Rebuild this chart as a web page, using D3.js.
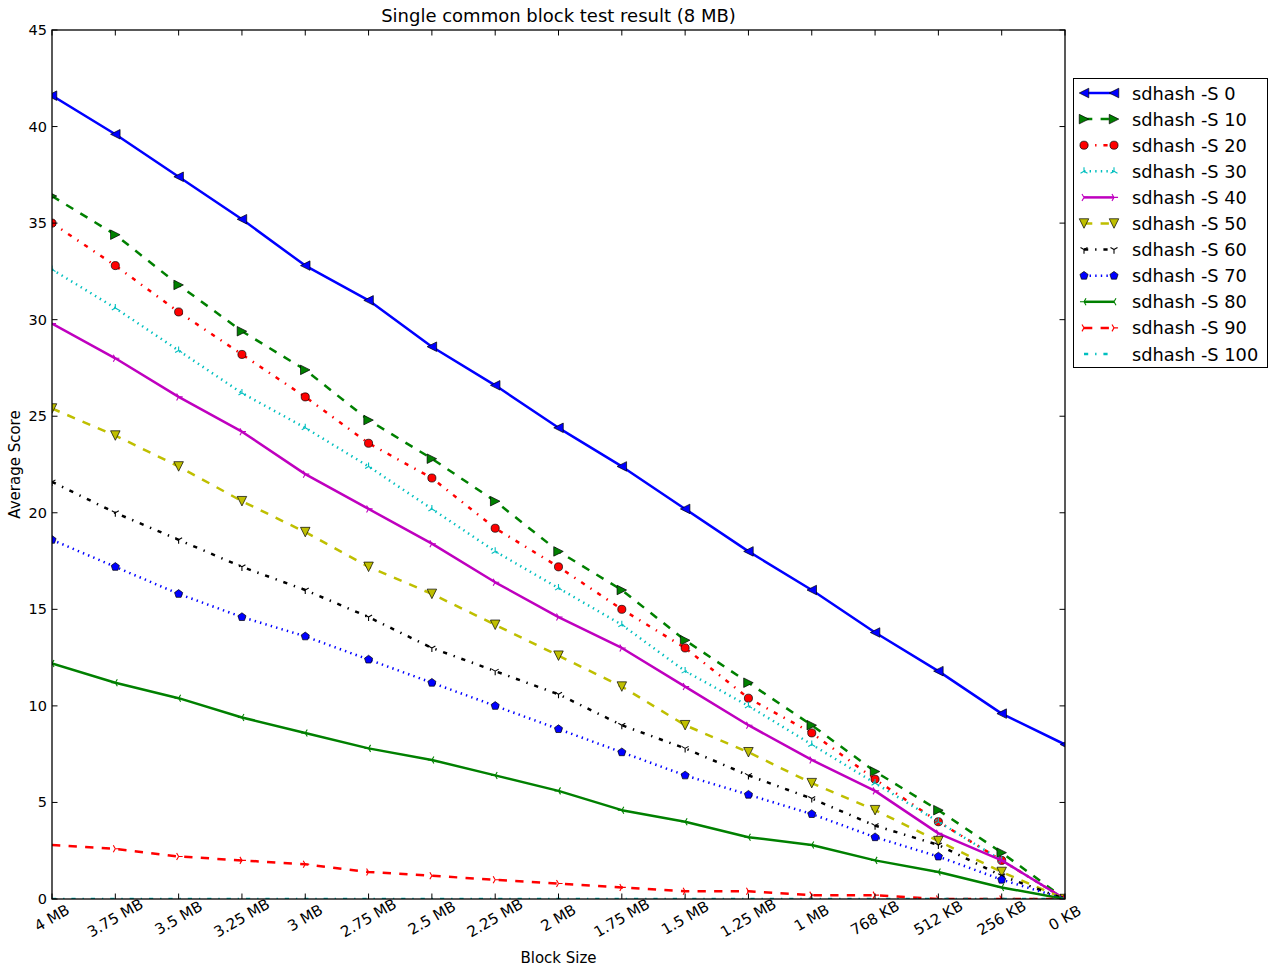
<!DOCTYPE html>
<html>
<head>
<meta charset="utf-8">
<script src="https://cdn.jsdelivr.net/npm/d3@7"></script>
<style>
  html, body { margin: 0; padding: 0; background: #ffffff; }
  svg { display: block; font-family: "DejaVu Sans", sans-serif; }
</style>
</head>
<body>
<svg id="chart" width="1272" height="969"></svg>
<script>
// Block sizes along the x axis
const categories = ["4 MB", "3.75 MB", "3.5 MB", "3.25 MB", "3 MB", "2.75 MB", "2.5 MB",
  "2.25 MB", "2 MB", "1.75 MB", "1.5 MB", "1.25 MB", "1 MB", "768 KB", "512 KB", "256 KB", "0 KB"];

// Average score per sdhash -S setting
const s0   = [41.6, 39.6, 37.4, 35.2, 32.8, 31.0, 28.6, 26.6, 24.4, 22.4, 20.2, 18.0, 16.0, 13.8, 11.8, 9.6, 8.0];
const s10  = [36.4, 34.4, 31.8, 29.4, 27.4, 24.8, 22.8, 20.6, 18.0, 16.0, 13.4, 11.2, 9.0, 6.6, 4.6, 2.4, 0];
const s20  = [35.0, 32.8, 30.4, 28.2, 26.0, 23.6, 21.8, 19.2, 17.2, 15.0, 13.0, 10.4, 8.6, 6.2, 4.0, 2.0, 0];
const s30  = [32.6, 30.6, 28.4, 26.2, 24.4, 22.4, 20.2, 18.0, 16.1, 14.2, 11.8, 10.0, 8.0, 6.0, 4.0, 2.0, 0];
const s40  = [29.8, 28.0, 26.0, 24.2, 22.0, 20.2, 18.4, 16.4, 14.6, 13.0, 11.0, 9.0, 7.2, 5.6, 3.4, 2.0, 0];
const s50  = [25.4, 24.0, 22.4, 20.6, 19.0, 17.2, 15.8, 14.2, 12.6, 11.0, 9.0, 7.6, 6.0, 4.6, 3.0, 1.4, 0];
const s60  = [21.6, 20.0, 18.6, 17.2, 16.0, 14.6, 13.0, 11.8, 10.6, 9.0, 7.8, 6.4, 5.2, 3.8, 2.8, 1.2, 0];
const s70  = [18.6, 17.2, 15.8, 14.6, 13.6, 12.4, 11.2, 10.0, 8.8, 7.6, 6.4, 5.4, 4.4, 3.2, 2.2, 1.0, 0];
const s80  = [12.2, 11.2, 10.4, 9.4, 8.6, 7.8, 7.2, 6.4, 5.6, 4.6, 4.0, 3.2, 2.8, 2.0, 1.4, 0.6, 0];
const s90  = [2.8, 2.6, 2.2, 2.0, 1.8, 1.4, 1.2, 1.0, 0.8, 0.6, 0.4, 0.4, 0.2, 0.2, 0, 0, 0];
const s100 = [0, 0, 0, 0, 0, 0, 0, 0, 0, 0, 0, 0, 0, 0, 0, 0, 0];

const seriesNames = ["sdhash -S 0", "sdhash -S 10", "sdhash -S 20", "sdhash -S 30", "sdhash -S 40",
  "sdhash -S 50", "sdhash -S 60", "sdhash -S 70", "sdhash -S 80", "sdhash -S 90", "sdhash -S 100"];
const seriesValues = [s0, s10, s20, s30, s40, s50, s60, s70, s80, s90, s100];

const yTicks = [0, 5, 10, 15, 20, 25, 30, 35, 40, 45];

// Line styling per series: colour, dash pattern, marker kind
const DASHED = "8.3,8.3", DASHDOT = "4.2,6.9,1.4,6.9", DOTTED = "1.4,4.2";
const styles = [
  { color: "#0000ff", dash: null,    marker: "tri-left" },
  { color: "#008000", dash: DASHED,  marker: "tri-right" },
  { color: "#ff0000", dash: DASHDOT, marker: "circle" },
  { color: "#00bfbf", dash: DOTTED,  marker: "y-up" },
  { color: "#bf00bf", dash: null,    marker: "y-right" },
  { color: "#bfbf00", dash: DASHED,  marker: "tri-down" },
  { color: "#000000", dash: DASHDOT, marker: "y-down" },
  { color: "#0000ff", dash: DOTTED,  marker: "pentagon" },
  { color: "#008000", dash: null,    marker: "y-left" },
  { color: "#ff0000", dash: DASHED,  marker: "y-right" },
  { color: "#00bfbf", dash: DASHDOT, marker: "none" }
];

const LINE_W = 2.5, MARK = 9.5;
const margin = { left: 52, right: 1065, top: 30, bottom: 899 };
const svg = d3.select("#chart");

const x = d3.scalePoint().domain(categories).range([margin.left, margin.right]).padding(0);
const y = d3.scaleLinear().domain([0, 45]).range([margin.bottom, margin.top]);

// Marker path generator (size is full width in px)
function markerPath(kind, size) {
  const r = size / 2;
  const p = d3.path();
  if (kind === "tri-left") {
    p.moveTo(-r, 0); p.lineTo(r, -r); p.lineTo(r, r); p.closePath();
  } else if (kind === "tri-right") {
    p.moveTo(r, 0); p.lineTo(-r, -r); p.lineTo(-r, r); p.closePath();
  } else if (kind === "tri-down") {
    p.moveTo(0, r); p.lineTo(-r, -r); p.lineTo(r, -r); p.closePath();
  } else if (kind === "circle") {
    p.arc(0, 0, r * 0.85, 0, 2 * Math.PI);
  } else if (kind === "pentagon") {
    for (let i = 0; i < 5; i++) {
      const a = -Math.PI / 2 + i * 2 * Math.PI / 5;
      const px = r * 0.9 * Math.cos(a), py = r * 0.9 * Math.sin(a);
      if (i === 0) p.moveTo(px, py); else p.lineTo(px, py);
    }
    p.closePath();
  } else if (kind.startsWith("y-")) {
    // three-armed "tri" markers
    const base = { "y-down": 90, "y-up": -90, "y-left": 180, "y-right": 0 }[kind];
    [0, 120, 240].forEach(off => {
      const a = (base + off) * Math.PI / 180;
      p.moveTo(0, 0); p.lineTo(r * 0.85 * Math.cos(a), r * 0.85 * Math.sin(a));
    });
  }
  return p.toString();
}
function isFilled(kind) { return !kind.startsWith("y-") && kind !== "none"; }

// Clip area for the plot
svg.append("defs").append("clipPath").attr("id", "plot-clip")
  .append("rect")
  .attr("x", margin.left).attr("y", margin.top)
  .attr("width", margin.right - margin.left).attr("height", margin.bottom - margin.top);

const plot = svg.append("g").attr("clip-path", "url(#plot-clip)");

const line = d3.line().x((d, i) => x(categories[i])).y(d => y(d));

seriesValues.forEach((vals, si) => {
  const st = styles[si];
  const g = plot.append("g");
  g.append("path")
    .datum(vals)
    .attr("d", line)
    .attr("fill", "none")
    .attr("stroke", st.color)
    .attr("stroke-width", LINE_W)
    .attr("stroke-dasharray", st.dash)
    .attr("stroke-linejoin", "round");
  if (st.marker !== "none") {
    g.selectAll("path.mk").data(vals).enter().append("path")
      .attr("class", "mk")
      .attr("transform", (d, i) => `translate(${x(categories[i])},${y(d)})`)
      .attr("d", markerPath(st.marker, MARK))
      .attr("fill", isFilled(st.marker) ? st.color : "none")
      .attr("stroke", isFilled(st.marker) ? "#000" : st.color)
      .attr("stroke-width", isFilled(st.marker) ? 0.7 : 1.1);
  }
});

// Frame
const axisG = svg.append("g");
axisG.append("rect")
  .attr("x", margin.left).attr("y", margin.top)
  .attr("width", margin.right - margin.left).attr("height", margin.bottom - margin.top)
  .attr("fill", "none").attr("stroke", "#000").attr("stroke-width", 1.3);

// Y axis: ticks inward on both sides
const TL = 5.5;
yTicks.forEach(t => {
  const yy = y(t);
  axisG.append("line").attr("x1", margin.left).attr("x2", margin.left + TL)
    .attr("y1", yy).attr("y2", yy).attr("stroke", "#000").attr("stroke-width", 1);
  axisG.append("line").attr("x1", margin.right).attr("x2", margin.right - TL)
    .attr("y1", yy).attr("y2", yy).attr("stroke", "#000").attr("stroke-width", 1);
  axisG.append("text").attr("x", margin.left - 5).attr("y", yy)
    .attr("text-anchor", "end").attr("dominant-baseline", "central")
    .attr("font-size", 14.5).attr("fill", "#000").text(t);
});

// X axis: ticks inward on top and bottom, rotated labels
categories.forEach(c => {
  const xx = x(c);
  axisG.append("line").attr("x1", xx).attr("x2", xx)
    .attr("y1", margin.bottom).attr("y2", margin.bottom - TL).attr("stroke", "#000").attr("stroke-width", 1);
  axisG.append("line").attr("x1", xx).attr("x2", xx)
    .attr("y1", margin.top).attr("y2", margin.top + TL).attr("stroke", "#000").attr("stroke-width", 1);
  axisG.append("text")
    .attr("transform", `translate(${xx},${918}) rotate(-30)`)
    .attr("text-anchor", "middle").attr("dominant-baseline", "central")
    .attr("font-size", 15).attr("fill", "#000").text(c);
});

// Titles
svg.append("text").attr("x", (margin.left + margin.right) / 2).attr("y", 22)
  .attr("text-anchor", "middle").attr("font-size", 18).attr("fill", "#000")
  .text("Single common block test result (8 MB)");
svg.append("text").attr("x", (margin.left + margin.right) / 2).attr("y", 963)
  .attr("text-anchor", "middle").attr("font-size", 15).attr("fill", "#000")
  .text("Block Size");
svg.append("text")
  .attr("transform", `translate(20,${(margin.top + margin.bottom) / 2}) rotate(-90)`)
  .attr("text-anchor", "middle").attr("font-size", 15).attr("fill", "#000")
  .text("Average Score");

// Legend
const lg = svg.append("g");
lg.append("rect").attr("x", 1073.5).attr("y", 78.5).attr("width", 194).attr("height", 289)
  .attr("fill", "#fff").attr("stroke", "#000").attr("stroke-width", 1);
seriesNames.forEach((name, si) => {
  const st = styles[si];
  const yy = 93 + si * 26.1;
  const x1 = 1084, x2 = 1114;
  lg.append("line").attr("x1", x1).attr("x2", x2).attr("y1", yy).attr("y2", yy)
    .attr("stroke", st.color).attr("stroke-width", LINE_W).attr("stroke-dasharray", st.dash);
  if (st.marker !== "none") {
    [x1, x2].forEach(mx => {
      lg.append("path").attr("transform", `translate(${mx},${yy})`)
        .attr("d", markerPath(st.marker, MARK))
        .attr("fill", isFilled(st.marker) ? st.color : "none")
        .attr("stroke", isFilled(st.marker) ? "#000" : st.color)
        .attr("stroke-width", isFilled(st.marker) ? 0.7 : 1.1);
    });
  }
  lg.append("text").attr("x", 1132).attr("y", yy).attr("dominant-baseline", "central")
    .attr("font-size", 17.8).attr("fill", "#000").text(name);
});
</script>
</body>
</html>
